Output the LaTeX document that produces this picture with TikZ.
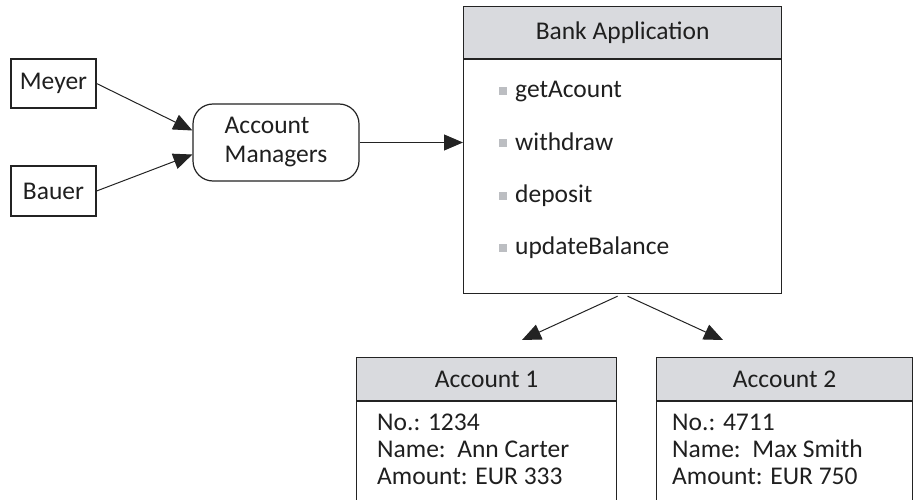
\documentclass[tikz,border=0pt]{standalone}
\usepackage{fontspec}
\setmainfont{Carlito}
\usetikzlibrary{arrows.meta,positioning}
\definecolor{headgray}{RGB}{217,218,222}
\definecolor{bulletgray}{RGB}{188,190,194}
\definecolor{linegray}{RGB}{35,35,35}
\tikzstyle{every node}=[font=\fontsize{25.5}{29}\selectfont,text=black!88]
\tikzstyle{namebox}=[draw=linegray,line width=1.2pt,minimum width=85pt,inner sep=0pt]
\tikzstyle{managerbox}=[draw=linegray,line width=1.2pt,rounded corners=20pt,minimum width=166pt,minimum height=77pt,align=left,inner sep=0pt]
\tikzstyle{headbox}=[draw=linegray,fill=headgray,line width=1.2pt,inner sep=0pt,anchor=north west]
\tikzstyle{bodybox}=[draw=linegray,line width=1.2pt,inner sep=0pt,anchor=north west]
\tikzstyle{method}=[anchor=base west,inner sep=0pt]
\tikzstyle{bullet}=[fill=bulletgray,minimum size=8pt,inner sep=0pt]
\tikzstyle{field}=[anchor=north west,align=left,inner sep=0pt,font=\fontsize{25.5}{27}\selectfont]
\tikzstyle{link}=[draw=linegray,line width=1pt,-{Triangle[length=19pt,width=16pt]}]

\begin{document}
\begin{tikzpicture}[x=1pt,y=-1pt]
  \useasboundingbox (0,0) rectangle (913,500);

  \node[namebox,minimum height=49pt] (meyer) at (53.5,83.5) {Meyer};
  \node[namebox,minimum height=50pt] (bauer) at (53.5,191) {Bauer};
  \node[managerbox] (managers) at (276,142.5) {Account\\Managers};

  % bank application
  \node[headbox,minimum width=318pt,minimum height=52pt] (bankhead) at (463,6) {Bank Application};
  \node[bodybox,minimum width=318pt,minimum height=235pt] (bank) at (463,58) {};
  \draw[linegray,line width=2.4pt] (bankhead.south west) -- (bankhead.south east);
  \foreach \m [count=\i] in {getAcount,withdraw,deposit,updateBalance}{
    \node[method] (m\i) at (515,46+52*\i) {\m};
    \node[bullet] (b\i) at (502.5,39.5+52*\i) {};
  }

  % accounts
  \node[headbox,minimum width=260pt,minimum height=43pt] (acc1head) at (356,357) {Account 1};
  \node[bodybox,minimum width=260pt,minimum height=130pt] (acc1) at (356,400) {};
  \draw[linegray,line width=2.4pt] (acc1head.south west) -- (acc1head.south east);
  \node[field] (acc1data) at (377,414) {No.: 1234\\Name:~~Ann Carter\\Amount: EUR 333};

  \node[headbox,minimum width=256pt,minimum height=43pt] (acc2head) at (656,357) {Account 2};
  \node[bodybox,minimum width=256pt,minimum height=130pt] (acc2) at (656,400) {};
  \draw[linegray,line width=2.4pt] (acc2head.south west) -- (acc2head.south east);
  \node[field] (acc2data) at (672,414) {No.: 4711\\Name:~~Max Smith\\Amount: EUR 750};

  \coordinate (tip1) at (522,340);
  \coordinate (tip2) at (723,340);

  \draw[link] (meyer.east) -- ([yshift=12pt]managers.west);
  \draw[link] (bauer.east) -- ([yshift=-12pt]managers.west);
  \draw[link] (managers.east) -- (managers.east -| bank.west);
  \draw[link] ([xshift=-5pt,yshift=-2pt]bank.south) -- (tip1);
  \draw[link] ([xshift=5pt,yshift=-2pt]bank.south) -- (tip2);
\end{tikzpicture}
\end{document}
